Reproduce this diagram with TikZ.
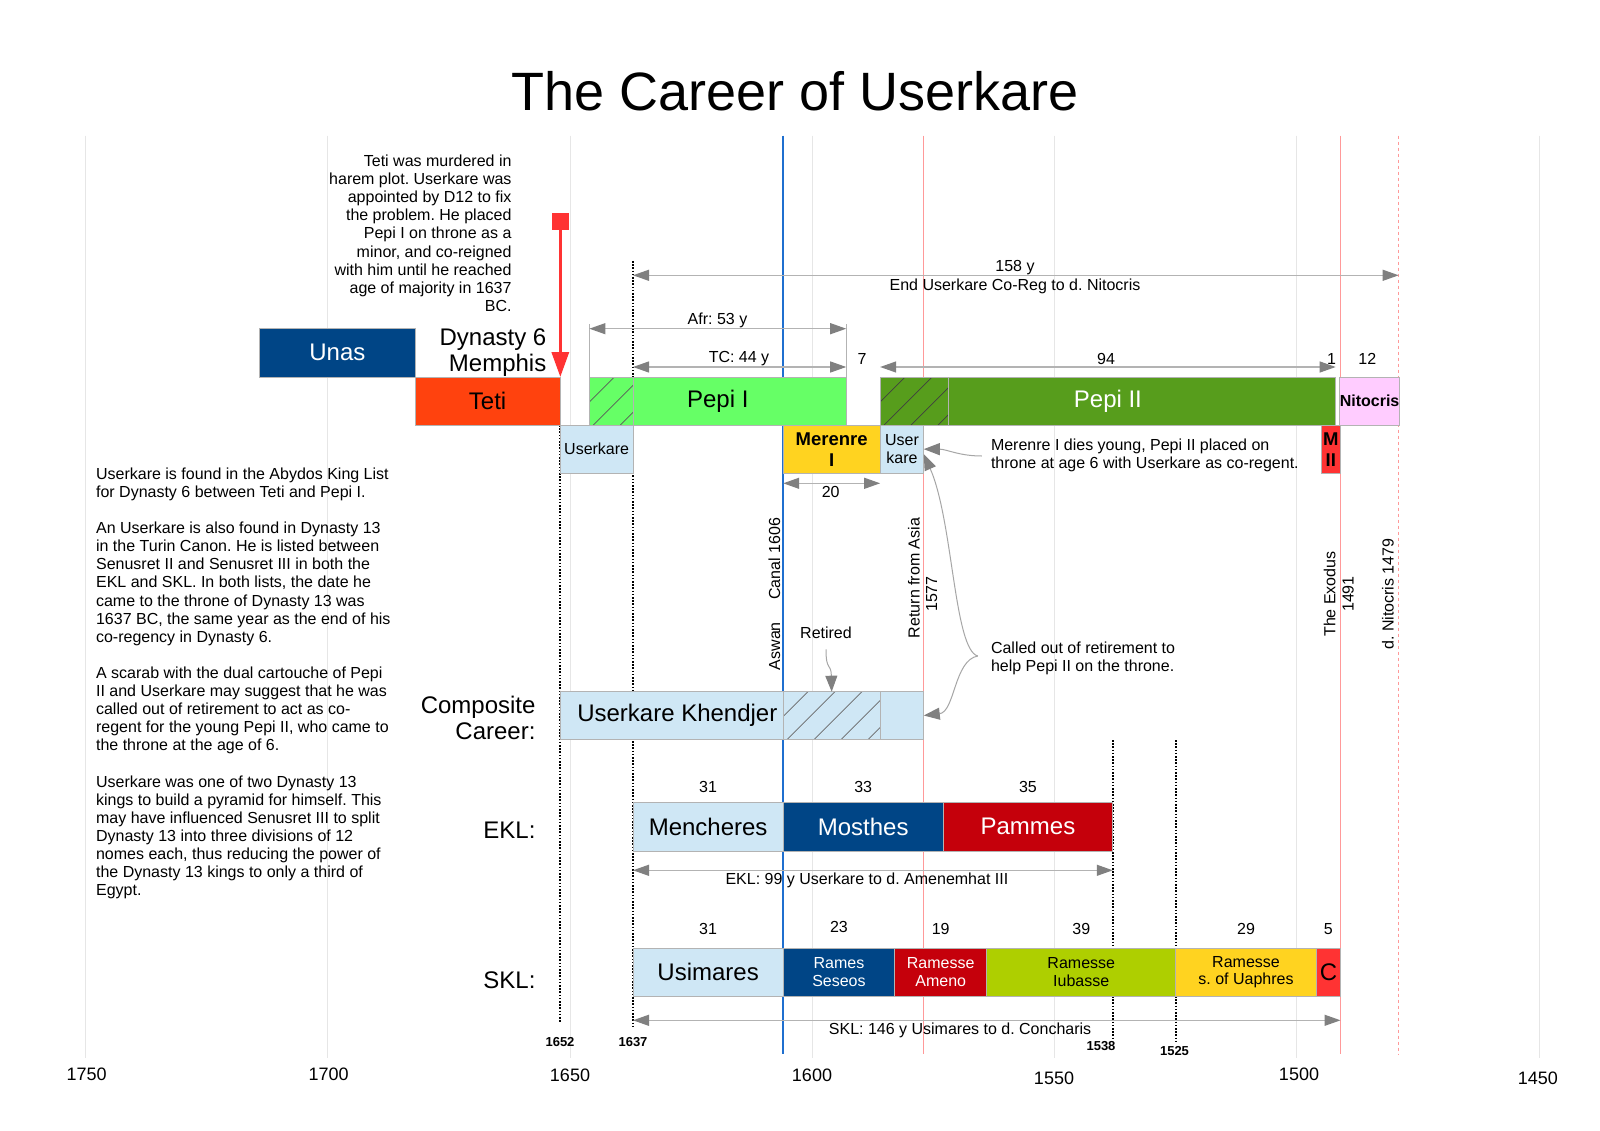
\documentclass[tikz,border=0pt]{standalone}
\usepackage{fontspec}
\setmainfont{Liberation Sans}
\usetikzlibrary{arrows.meta}
\frenchspacing
\definecolor{dblue}{HTML}{004586}
\definecolor{tetic}{HTML}{FF420E}
\definecolor{lgreen}{HTML}{66FF66}
\definecolor{dgreen}{HTML}{579D1C}
\definecolor{lblue}{HTML}{CFE7F5}
\definecolor{myyellow}{HTML}{FFD320}
\definecolor{myred}{HTML}{FF3333}
\definecolor{dred}{HTML}{C5000B}
\definecolor{mylime}{HTML}{AECF00}
\definecolor{mypink}{HTML}{FFCCFF}
\definecolor{gridc}{HTML}{E6E6E6}
\definecolor{bluel}{HTML}{1F6FCF}
\definecolor{pinkl}{HTML}{FF9999}
\definecolor{dimline}{HTML}{B3B3B3}
\definecolor{dimhead}{HTML}{808080}
\definecolor{boxline}{HTML}{B3B3B3}
\definecolor{annoc}{HTML}{A6A6A6}
\newcommand{\yx}[1]{(570+(1650-(#1))*4.846)}
% name, Ystart, Yend, ytop, ybot, style, text
\newcommand{\kbox}[7]{%
  \node[kbox,#6,minimum width={((#2)-(#3))*4.846pt},minimum height={((#5)-(#4))*1pt}]
    (#1) at ({570+(1650-((#2)+(#3))/2)*4.846},{((#4)+(#5))/2}) {#7};}
\newcommand{\hatchreg}[5]{%
  \begin{scope}
    \clip ({#1},{#2}) rectangle ({#3},{#4});
    \foreach \k in {0,...,8} \draw[#5,line width=0.7pt] ({#1-50+27*\k},{#4}) -- ++(80,-80);
  \end{scope}
  \draw[draw=boxline,line width=0.8pt] ({#1},{#2}) rectangle ({#3},{#4});}
\begin{document}
\begin{tikzpicture}[x=1pt,y=-1pt,
  kbox/.style={draw=boxline,line width=0.8pt,inner sep=0pt,outer sep=0pt,align=center},
  sm/.style={font=\fontsize{16}{17.7}\selectfont},
  note/.style={font=\fontsize{16}{18.1}\selectfont,inner sep=0pt},
  smb/.style={font=\fontsize{16}{17.7}\selectfont\bfseries},
  mb/.style={font=\fontsize{18.5}{21}\selectfont\bfseries},
  bg/.style={font=\fontsize{24}{26}\selectfont},
  axl/.style={font=\fontsize{18}{20}\selectfont},
  tb/.style={font=\fontsize{13}{15}\selectfont\bfseries},
  gridl/.style={draw=gridc,line width=1pt},
  dotl/.style={draw=black,line width=1.7pt,dash pattern=on 1.6pt off 1.6pt},
  dimarrow/.style={draw=dimline,line width=1.2pt,{Triangle[length=16pt,width=11pt,color=dimhead]}-{Triangle[length=16pt,width=11pt,color=dimhead]}},
  anno/.style={draw=annoc,line width=1pt,-{Triangle[length=16pt,width=12pt,color=dimhead]}}
]
\useasboundingbox (0,0) rectangle (1600,1131);
\fill[white] (0,0) rectangle (1600,1131);

\node[font=\fontsize{54}{60}\selectfont,anchor=base] (title) at (795,110.7) {The Career of Userkare};

% grid
\foreach \Y in {1750,1700,...,1450} \draw[gridl] ({\yx{\Y}},135.7) -- ({\yx{\Y}},1058);

% special vertical lines
\draw[draw=bluel,line width=2pt] ({\yx{1606}},135.7) -- ({\yx{1606}},1054);
\draw[draw=pinkl,line width=1pt] ({\yx{1577}},135.7) -- ({\yx{1577}},1054);
\draw[draw=pinkl,line width=1pt] ({\yx{1491}},135.7) -- ({\yx{1491}},1054);
\draw[draw=pinkl,line width=1pt,dash pattern=on 3pt off 3pt] ({\yx{1479}},135.7) -- ({\yx{1479}},1054);
\draw[dotl] ({\yx{1652}},377) -- ({\yx{1652}},1023);
\draw[dotl] ({\yx{1637}},261) -- ({\yx{1637}},1028);
\draw[dotl] ({\yx{1538}},740) -- ({\yx{1538}},1038);
\draw[dotl] ({\yx{1525}},740) -- ({\yx{1525}},1043);

% row 1
\kbox{unas}{1714}{1682}{328.3}{377}{fill=dblue,text=white,bg}{Unas}
\kbox{teti}{1682}{1652}{377}{425}{fill=tetic,bg}{Teti}
\kbox{pepi1}{1646}{1593}{377}{425}{fill=lgreen,bg}{Pepi I}
\kbox{pepi2}{1586}{1492}{377}{425}{fill=dgreen,text=white,bg}{Pepi II}
\kbox{nitocris}{1491}{1479}{377}{425}{fill=mypink,smb}{Nitocris}
\hatchreg{\yx{1646}}{377}{\yx{1637}}{425}{black!65}
\hatchreg{\yx{1586}}{377}{\yx{1572}}{425}{black!75}

% row 2
\kbox{uk1}{1652}{1637}{425}{473.3}{fill=lblue,sm}{Userkare}
\kbox{merenre}{1606}{1586}{425}{473.3}{fill=myyellow,mb}{Merenre\\I}
\kbox{uk2}{1586}{1577}{425}{473.3}{fill=lblue,sm}{User\\kare}
\kbox{m2}{1495}{1491}{425}{473.3}{fill=myred,mb}{M\\II}

% composite
\kbox{kh1}{1652}{1606}{691.7}{739.3}{fill=lblue}{}
\kbox{kh2}{1606}{1586}{691.7}{739.3}{fill=lblue}{}
\kbox{kh3}{1586}{1577}{691.7}{739.3}{fill=lblue}{}
\hatchreg{\yx{1606}}{691.7}{\yx{1586}}{739.3}{black!60}
\node[bg] (khlabel) at (677.3,715) {Userkare Khendjer};

% EKL
\kbox{mench}{1637}{1606}{802.7}{851}{fill=lblue,bg}{Mencheres}
\kbox{mosth}{1606}{1573}{802.7}{851}{fill=dblue,text=white,bg}{Mosthes}
\kbox{pamm}{1573}{1538}{802.7}{851}{fill=dred,text=white,bg}{Pammes}

% SKL
\kbox{usim}{1637}{1606}{948}{996.3}{fill=lblue,bg}{Usimares}
\kbox{seseos}{1606}{1583}{948}{996.3}{fill=dblue,text=white,sm}{Rames\\Seseos}
\kbox{ameno}{1583}{1564}{948}{996.3}{fill=dred,text=white,sm}{Ramesse\\Ameno}
\kbox{iub}{1564}{1525}{948}{996.3}{fill=mylime,sm}{Ramesse\\Iubasse}
\kbox{uaph}{1525}{1496}{948}{996.3}{fill=myyellow,sm}{Ramesse\\s. of Uaphres}
\kbox{conch}{1496}{1491}{948}{996.3}{fill=myred,bg}{C}

% numbers
\node[sm] (n1) at (mench.center |- 0,787.3) {31};
\node[sm] (n2) at (mosth.center |- 0,787.3) {33};
\node[sm] (n3) at (pamm.center |- 0,787.3) {35};
\node[sm] (s1) at (usim.center |- 0,929) {31};
\node[sm] (s2) at (seseos.center |- 0,927) {23};
\node[sm] (s3) at (ameno.center |- 0,929) {19};
\node[sm] (s4) at (iub.center |- 0,929) {39};
\node[sm] (s5) at (uaph.center |- 0,929) {29};
\node[sm] (s6) at (conch.center |- 0,929) {5};

% labels
\node[bg,align=right,anchor=north east,inner sep=0pt] (dyn) at (546.5,328.8) {Dynasty 6\\Memphis};
\node[bg,align=right,anchor=north east,inner sep=0pt] (comp) at (535.7,696) {Composite\\Career:};
\node[bg,anchor=east,inner sep=0pt] (ekl) at (535.7,830.7) {EKL:};
\node[bg,anchor=east,inner sep=0pt] (skl) at (535.7,980) {SKL:};

\node[note,align=right,anchor=north east] (tetinote) at (511.7,154.8) {Teti was murdered in\\harem plot. Userkare was\\appointed by D12 to fix\\the problem. He placed\\Pepi I on throne as a\\minor, and co-reigned\\with him until he reached\\age of majority in 1637\\BC.};

\node[note,align=left,anchor=north west] (lefttext) at (95.9,467.5) {Userkare is found in the Abydos King List\\
for Dynasty 6 between Teti and Pepi I.\\
~\\
An Userkare is also found in Dynasty 13\\
in the Turin Canon. He is listed between\\
Senusret II and Senusret III in both the\\
EKL and SKL. In both lists, the date he\\
came to the throne of Dynasty 13 was\\
1637 BC, the same year as the end of his\\
co-regency in Dynasty 6.\\
~\\
A scarab with the dual cartouche of Pepi\\
II and Userkare may suggest that he was\\
called out of retirement to act as co-\\
regent for the young Pepi II, who came to\\
the throne at the age of 6.\\
~\\
Userkare was one of two Dynasty 13\\
kings to build a pyramid for himself. This\\
may have influenced Senusret III to split\\
Dynasty 13 into three divisions of 12\\
nomes each, thus reducing the power of\\
the Dynasty 13 kings to only a third of\\
Egypt.};

% red arrow
\node[fill=myred,minimum size=17pt,inner sep=0pt] (sq) at ({\yx{1652}},221.5) {};
\draw[draw=myred,line width=3.3pt,-{Triangle[length=25pt,width=17pt]}] (sq.center) -- (teti.north east);

% dimension lines
\coordinate (a158l) at ({\yx{1637}},275.3);
\coordinate (a158r) at ({\yx{1479}},275.3);
\draw[dimarrow] (a158l) -- (a158r);
\node[sm] (l158) at (1015,268) {158 y};
\node[sm] (l158b) at (1015,286) {End Userkare Co-Reg to d. Nitocris};

\draw[draw=dimline,line width=1pt] (pepi1.north west) -- ++(0,-53);
\draw[draw=dimline,line width=1pt] (pepi1.north east) -- ++(0,-53);
\coordinate (afrl) at ({\yx{1646}},328.7);
\coordinate (afrr) at ({\yx{1593}},328.7);
\draw[dimarrow] (afrl) -- (afrr);
\node[sm] (lafr) at (717.5,320.3) {Afr: 53 y};

\coordinate (tcl) at ({\yx{1637}},367);
\coordinate (tcr) at ({\yx{1593}},367);
\draw[dimarrow] (tcl) -- (tcr);
\node[sm] (ltc) at (739,358.7) {TC: 44 y};
\node[sm] (l7) at (862,358.7) {7};

\coordinate (p2l) at ({\yx{1586}},367);
\coordinate (p2r) at ({\yx{1492}},367);
\draw[dimarrow] (p2l) -- (p2r);
\node[sm] (l94) at (1106,358.7) {94};
\node[sm] (l1) at (1331.6,358.7) {1};
\node[sm] (l12) at (1367.3,358.7) {12};

\coordinate (t20l) at ({\yx{1606}},483.3);
\coordinate (t20r) at ({\yx{1586}},483.3);
\draw[dimarrow] (t20l) -- (t20r);
\node[sm] (l20) at (830.7,492.3) {20};

\coordinate (ekll) at ({\yx{1637}},870.3);
\coordinate (eklr) at ({\yx{1538}},870.3);
\draw[dimarrow] (ekll) -- (eklr);
\node[sm,anchor=west,inner sep=0pt] (lekl) at (725.3,880.3) {EKL: 99 y Userkare to d. Amenemhat III};

\coordinate (skll) at ({\yx{1637}},1020.3);
\coordinate (sklr) at ({\yx{1491}},1020.3);
\draw[dimarrow] (skll) -- (sklr);
\node[sm,anchor=west,inner sep=0pt] (lskl) at (828.7,1030.3) {SKL: 146 y Usimares to d. Concharis};

% rotated labels
\node[sm,rotate=90] (aswan) at (774.5,594) {Aswan\hspace{22.5pt}Canal 1606};
\node[sm,rotate=90] (retasia) at (914,578) {Return from Asia};
\node[sm,rotate=90] (r1577) at (931.7,594) {1577};
\node[note,rotate=90,align=center] (exodus) at (1338.8,594) {The Exodus\\1491};
\node[sm,rotate=90] (dnit) at (1387.8,594) {d. Nitocris 1479};

% retired
\node[sm] (ret) at (826,633) {Retired};
\draw[anno] ([yshift=-7pt]ret.south) .. controls (826,672) and (831,662) .. (kh2.north);

% annotations
\node[note,align=left,anchor=west] (anA) at (990.8,455) {Merenre I dies young, Pepi II placed on\\throne at age 6 with Userkare as co-regent.};
\node[note,align=left,anchor=west] (anB) at (990.8,658) {Called out of retirement to\\help Pepi II on the throne.};
\coordinate (anAs) at ([xshift=-9pt,yshift=-1pt]anA.west);
\coordinate (anBs) at ([xshift=-13pt,yshift=2pt]anB.west);
\draw[anno] (anAs) to[out=180,in=0] (uk2.east);
\draw[anno] (anBs) .. controls (954,650) and (953,520) .. ([yshift=-5pt]uk2.east);
\draw[anno] (anBs) .. controls (954,660) and (955,712) .. (kh3.east);

% small bold year labels
\node[tb] (y1652) at (560,1042.3) {1652};
\node[tb] (y1637) at (633,1042.3) {1637};
\node[tb] (y1538) at (1101,1046) {1538};
\node[tb] (y1525) at (1174.5,1051) {1525};

% axis labels
\node[axl] (x1750) at (86.7,1074.5) {1750};
\node[axl] (x1700) at (328.6,1074.5) {1700};
\node[axl] (x1650) at (570,1075) {1650};
\node[axl] (x1600) at (812,1075) {1600};
\node[axl] (x1550) at (1054,1078.6) {1550};
\node[axl] (x1500) at (1299,1074.5) {1500};
\node[axl] (x1450) at (1537.8,1078.6) {1450};
\end{tikzpicture}
\end{document}
